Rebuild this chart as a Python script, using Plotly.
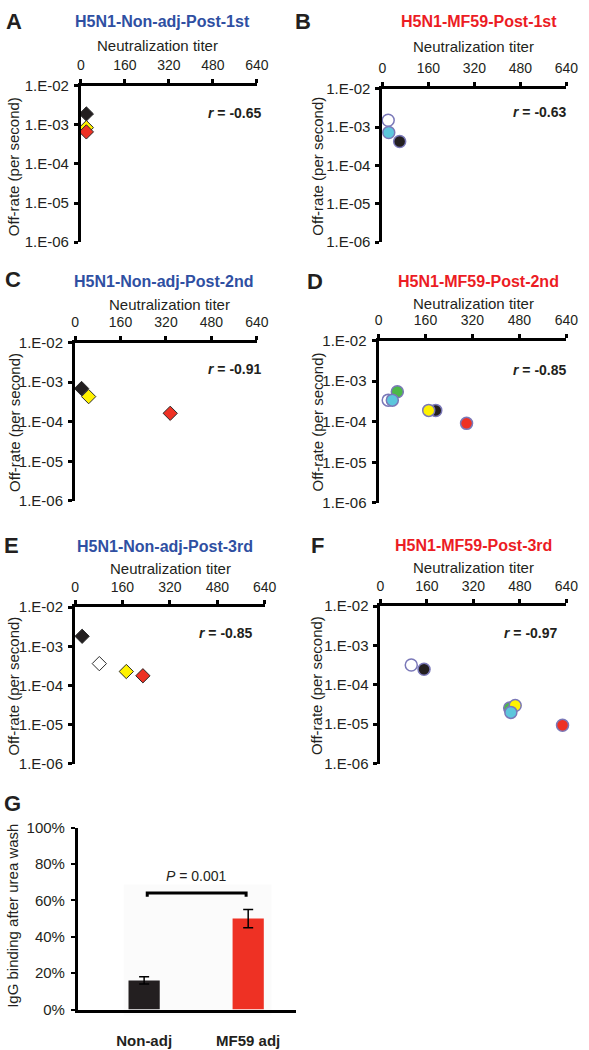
import plotly.graph_objects as go

W, H = 589, 1050

# ---------------- data ----------------
titer_ticks = [0, 160, 320, 480, 640]
rate_ticks = [1e-6, 1e-5, 1e-4, 1e-3, 1e-2]
rate_tick_text = ["1.E-06", "1.E-05", "1.E-04", "1.E-03", "1.E-02"]

A_titer = [20, 20, 20]
A_rate = [1.9e-3, 8.5e-4, 6.6e-4]

B_titer = [20, 22, 60]
B_rate = [1.5e-3, 7.2e-4, 4.2e-4]

C_titer = [23, 48, 335]
C_rate = [6.9e-4, 4.3e-4, 1.63e-4]

D_titer = [33, 64, 47, 195, 171, 300]
D_rate = [3.4e-4, 5.5e-4, 3.4e-4, 1.9e-4, 1.9e-4, 9.1e-5]

E_titer = [24, 82, 173, 229]
E_rate = [1.8e-3, 3.6e-4, 2.26e-4, 1.76e-4]

F_titer = [106, 150, 445, 464, 449, 627]
F_rate = [3.2e-4, 2.5e-4, 2.6e-5, 3.0e-5, 2.0e-5, 9.4e-6]

r_values = ["-0.65", "-0.63", "-0.91", "-0.85", "-0.85", "-0.97"]
panel_titles = ["H5N1-Non-adj-Post-1st", "H5N1-MF59-Post-1st",
                "H5N1-Non-adj-Post-2nd", "H5N1-MF59-Post-2nd",
                "H5N1-Non-adj-Post-3rd", "H5N1-MF59-Post-3rd"]
panel_letters = ["A", "B", "C", "D", "E", "F", "G"]

G_groups = ["Non-adj", "MF59 adj"]
G_binding = [16, 50]
G_error = [2, 5]
G_pvalue = "0.001"

# ---------------- styles ----------------
BLACK = "#231f20"
YEL = "#fff200"
RED = "#ee3124"
WHITE = "#ffffff"
CYAN = "#5cc6dc"
GREEN = "#4db848"
BLUE_T = "#2f4fa2"
RED_T = "#ec1c24"

A_col = [BLACK, YEL, RED]
B_col = [WHITE, CYAN, BLACK]
C_col = [BLACK, YEL, RED]
D_col = [WHITE, GREEN, CYAN, BLACK, YEL, RED]
E_col = [BLACK, WHITE, YEL, RED]
F_col = [WHITE, BLACK, GREEN, YEL, CYAN, RED]

FONT = "Liberation Sans, Arial, sans-serif"

def fx(px):
    return px / W

def fy(py):
    return 1 - py / H

# pixel boxes: left, top (x axis line), right, bottom (1.E-06)
boxes = [
    (79, 78, 260, 237),
    (389, 81, 578, 237),
    (73, 339, 260, 500),
    (385, 337, 578, 502),
    (73, 608, 268, 767),
    (387, 607, 578, 767),
]

panels = [
    (A_titer, A_rate, A_col, "diamond"),
    (B_titer, B_rate, B_col, "circle"),
    (C_titer, C_rate, C_col, "diamond"),
    (D_titer, D_rate, D_col, "circle"),
    (E_titer, E_rate, E_col, "diamond"),
    (F_titer, F_rate, F_col, "circle"),
]

fig = go.Figure()
layout = dict(
    width=W, height=H,
    margin=dict(l=0, r=0, t=0, b=0),
    paper_bgcolor="white", plot_bgcolor="rgba(0,0,0,0)",
    showlegend=False,
    font=dict(family=FONT, color=BLACK),
)

annotations = []
shapes = []

# positions for texts (px)
title_pos = [(163, 13), (488, 13), (164, 277), (488, 277), (166, 546), (483, 545)]
title_col = [BLUE_T, RED_T, BLUE_T, RED_T, BLUE_T, RED_T]
letter_pos = [(10, 13), (307, 13), (9, 275), (320, 277), (8, 545), (322, 545), (9, 808)]
nt_pos = [(158, 37), (483, 38), (170, 300), (483, 299), (171, 569), (483, 568)]
r_pos = [(267, 106), (581, 105), (267, 366), (581, 367), (258, 634), (572, 634)]
ylab_pos = [(10, 160), (322, 160), (10, 420), (322, 420), (10, 688), (322, 688)]

for i, ((tx, ry, cols, sym), box) in enumerate(zip(panels, boxes)):
    n = i + 1
    l, t, r, b = box
    xa = "xaxis" if n == 1 else f"xaxis{n}"
    ya = "yaxis" if n == 1 else f"yaxis{n}"
    xr = "x" if n == 1 else f"x{n}"
    yr = "y" if n == 1 else f"y{n}"
    is_d = sym == "diamond"
    fig.add_trace(go.Scatter(
        x=tx, y=ry, mode="markers", xaxis=xr, yaxis=yr,
        marker=dict(symbol=sym, size=11 if is_d else 12, color=cols,
                    line=dict(color="#2a2a2a" if is_d else "#7a78b8", width=1 if is_d else 1.5)),
        hoverinfo="skip", cliponaxis=False,
    ))
    layout[xa] = dict(
        domain=[fx(l), fx(r)], range=[0, 640], side="top", anchor=yr,
        tickvals=titer_ticks, ticks="outside", ticklen=4, tickwidth=2.5,
        showline=True, linewidth=3, linecolor="black", tickcolor="black",
        showgrid=False, zeroline=False, fixedrange=True,
        tickfont=dict(size=14, family=FONT, color=BLACK), ticklabelstandoff=3,
    )
    layout[ya] = dict(
        domain=[fy(b), fy(t)], type="log", range=[-6, -2], anchor=xr,
        tickvals=rate_ticks, ticktext=rate_tick_text, ticks="outside", ticklen=4, tickwidth=2.5,
        showline=True, linewidth=3, linecolor="black", tickcolor="black",
        showgrid=False, zeroline=False, fixedrange=True,
        tickfont=dict(size=15, family=FONT, color=BLACK), ticklabelstandoff=2,
    )
    annotations.append(dict(x=fx(title_pos[i][0]), y=fy(title_pos[i][1]), xref="paper", yref="paper",
                            text=f"<b>{panel_titles[i]}</b>", showarrow=False,
                            font=dict(size=16, color=title_col[i], family=FONT),
                            xanchor="center", yanchor="middle"))
    annotations.append(dict(x=fx(nt_pos[i][0]), y=fy(nt_pos[i][1]), xref="paper", yref="paper",
                            text="Neutralization titer", showarrow=False,
                            font=dict(size=15, color=BLACK, family=FONT),
                            xanchor="center", yanchor="middle"))
    annotations.append(dict(x=fx(r_pos[i][0]), y=fy(r_pos[i][1]), xref="paper", yref="paper",
                            text=f"<b><i>r</i> = {r_values[i]}</b>", showarrow=False,
                            font=dict(size=14, color=BLACK, family=FONT),
                            xanchor="right", yanchor="middle"))
    annotations.append(dict(x=fx(ylab_pos[i][0]), y=fy(ylab_pos[i][1]), xref="paper", yref="paper",
                            text="Off-rate (per second)", showarrow=False, textangle=-90,
                            font=dict(size=15, color=BLACK, family=FONT),
                            xanchor="center", yanchor="middle"))

for i, (px, py) in enumerate(letter_pos):
    annotations.append(dict(x=fx(px), y=fy(py), xref="paper", yref="paper",
                            text=f"<b>{panel_letters[i]}</b>", showarrow=False,
                            font=dict(size=22, color=BLACK, family=FONT),
                            xanchor="center", yanchor="middle"))

# ---------------- panel G ----------------
shapes.append(dict(type="rect", xref="paper", yref="paper",
                   x0=fx(123), x1=fx(275), y0=fy(1023), y1=fy(890),
                   fillcolor="#fbfbfb", line=dict(width=0), layer="below"))

fig.add_trace(go.Bar(
    x=G_groups, y=G_binding, xaxis="x7", yaxis="y7", width=0.3,
    marker=dict(color=[BLACK, RED], line=dict(width=0)),
    error_y=dict(type="data", array=G_error, visible=True, color="black", thickness=1.5, width=5),
    hoverinfo="skip",
))
layout["xaxis7"] = dict(
    domain=[fx(76), fx(300)], range=[-0.636, 1.458], anchor="y7", type="category",
    showline=True, linewidth=3, linecolor="black", ticks="",
    showgrid=False, zeroline=False, fixedrange=True,
    tickvals=G_groups, ticktext=[f"<b>{g}</b>" for g in G_groups],
    tickfont=dict(size=15, family=FONT, color=BLACK), ticklabelstandoff=15,
)
layout["yaxis7"] = dict(
    domain=[fy(1017), fy(832)], range=[0, 100], anchor="x7",
    tickvals=[0, 20, 40, 60, 80, 100], ticktext=["0%", "20%", "40%", "60%", "80%", "100%"],
    ticks="outside", ticklen=4, tickwidth=2, tickcolor="black",
    showline=True, linewidth=3, linecolor="black",
    showgrid=False, zeroline=False, fixedrange=True,
    tickfont=dict(size=15, family=FONT, color=BLACK), ticklabelstandoff=3,
)
shapes.append(dict(type="path", xref="x7", yref="y7",
                   path="M 0.03,62 L 0.03,64 L 0.98,64 L 0.98,62",
                   line=dict(color="black", width=3)))
annotations.append(dict(x=0.5, y=73.6, xref="x7", yref="y7",
                        text=f"<i>P</i> = {G_pvalue}", showarrow=False,
                        font=dict(size=14, color=BLACK, family=FONT),
                        xanchor="center", yanchor="middle"))
annotations.append(dict(x=fx(8), y=fy(922), xref="paper", yref="paper",
                        text="IgG binding after urea wash", showarrow=False, textangle=-90,
                        font=dict(size=15, color=BLACK, family=FONT),
                        xanchor="center", yanchor="middle"))

layout["annotations"] = annotations
layout["shapes"] = shapes
fig.update_layout(**layout)
fig.write_html("out.html", config={"displayModeBar": False},
               post_script="document.body.style.margin='0px';document.body.style.overflow='hidden';")
